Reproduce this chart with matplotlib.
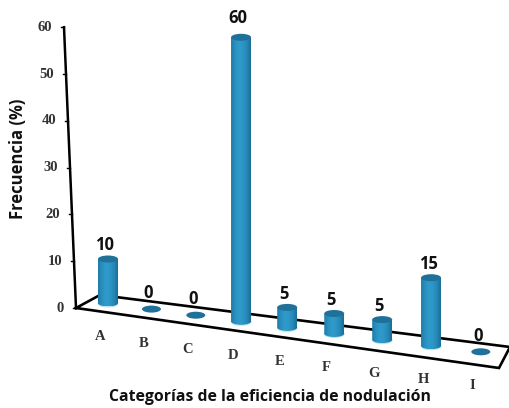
import numpy as np
import matplotlib
matplotlib.use("Agg")
import matplotlib.pyplot as plt
from matplotlib.patches import Ellipse, PathPatch
from matplotlib.path import Path
from matplotlib.transforms import Transform
from matplotlib.colors import LinearSegmentedColormap

categories = ["A", "B", "C", "D", "E", "F", "G", "H", "I"]
frequency = [10, 0, 0, 60, 5, 5, 5, 15, 0]
y_ticks = [0, 10, 20, 30, 40, 50, 60]
y_title = "Frecuencia (%)"
x_title = "Categorías de la eficiencia de nodulación"


class FloorProjection(Transform):
    """(category index, value) -> figure pixels of the oblique 3-D view."""
    input_dims = output_dims = 2
    is_separable = False

    def transform_non_affine(self, xy):
        xy = np.asarray(xy, float)
        i, v = xy[:, 0], xy[:, 1]
        x = 108 + 43 * i + 0.45 * i ** 2
        y = 303 + 6.1 * i - np.where(v > 0, 4.8 * v - 4, 0)
        return np.column_stack([x, y])


class WallProjection(Transform):
    """Value -> figure pixels along the slanted vertical axis."""
    input_dims = output_dims = 2
    is_separable = False

    def transform_non_affine(self, xy):
        xy = np.asarray(xy, float)
        return np.column_stack([76 + xy[:, 0] - 0.2 * xy[:, 1], 308 - 4.68 * xy[:, 1]])


fig = plt.figure(figsize=(5.1, 4.08), dpi=100)
ax = fig.add_axes([0, 0, 1, 1])
ax.set_xlim(0, 510)
ax.set_ylim(408, 0)
ax.axis("off")

floor = FloorProjection()
wall = WallProjection()
serif = {"family": "Liberation Serif", "weight": "bold", "color": "#333333"}
sans = {"family": "Open Sans", "weight": "bold", "color": "#111111"}

# slanted value axis with ticks and labels
ax.plot([0, 0], [0, 60], color="black", lw=1.8, transform=wall + ax.transData, zorder=2)
for t in y_ticks:
    ax.plot([-3, 0], [t, t], color="black", lw=1.0, transform=wall + ax.transData, zorder=2)
    ax.annotate(str(t), xy=(0, t), xycoords=wall + ax.transData, xytext=(-12, 0),
                textcoords="offset pixels", ha="right", va="center", fontsize=10.5, **serif)

# floor of the 3-D plot
ax.plot([76, 499, 510, 100, 76], [308, 368, 347, 295, 308], color="black", lw=1.9,
        solid_joinstyle="miter", zorder=2)

body_cmap = LinearSegmentedColormap.from_list(
    "cyl", ["#1F7CA8", "#2A90C0", "#2F9BCB", "#2C96C6", "#2688B6", "#1B6E96"])
half_w, half_h = 10.0, 3.5
for i, (name, v) in enumerate(zip(categories, frequency)):
    (bx, by), (tx, ty) = floor.transform(np.array([[i, 0.0], [i, float(v)]]))
    if v == 0:
        ax.add_patch(Ellipse((bx, by), 19, 7, color="#1F7199", lw=0, zorder=3))
        top_y = by
    else:
        ax.add_patch(Ellipse((bx, by + 0.5), 2 * half_w + 1, 2 * half_h + 1, color="#BBE2F2",
                             lw=0, zorder=3))
        k = 0.5523
        verts = [(bx - half_w, ty), (bx - half_w, by),
                 (bx - half_w, by + k * half_h), (bx - k * half_w, by + half_h), (bx, by + half_h),
                 (bx + k * half_w, by + half_h), (bx + half_w, by + k * half_h), (bx + half_w, by),
                 (bx + half_w, ty), (bx - half_w, ty)]
        codes = [Path.MOVETO, Path.LINETO, Path.CURVE4, Path.CURVE4, Path.CURVE4,
                 Path.CURVE4, Path.CURVE4, Path.CURVE4, Path.LINETO, Path.CLOSEPOLY]
        clip = PathPatch(Path(verts, codes), transform=ax.transData, fc="none", ec="none")
        ax.add_patch(clip)
        im = ax.imshow(np.linspace(0, 1, 40)[None, :], cmap=body_cmap, aspect="auto", zorder=4,
                       extent=(bx - half_w, bx + half_w, by + half_h, ty))
        im.set_clip_path(clip)
        ax.add_patch(Ellipse((tx, ty), 2 * half_w, 2 * half_h, color="#1F7199", lw=0, zorder=5))
        top_y = ty - half_h
    dy = 18 if v == 0 or v == max(frequency) else 12
    ax.annotate(str(v), xy=(tx, top_y), xytext=(-3, dy), textcoords="offset pixels",
                ha="center", va="center_baseline", fontsize=12, zorder=6, **sans)
    ax.annotate(name, xy=(i, 0), xycoords=floor + ax.transData, xytext=(-8, -34),
                textcoords="offset pixels", ha="center", va="center", fontsize=10.5, **serif)

ax.set_xlim(0, 510)
ax.set_ylim(408, 0)

ax.text(18, 159, y_title, rotation=90, ha="center", va="center", fontsize=12, **sans)
ax.text(270, 397, x_title, ha="center", va="center", fontsize=11.3, **sans)

fig.savefig("out.png", dpi=100)
